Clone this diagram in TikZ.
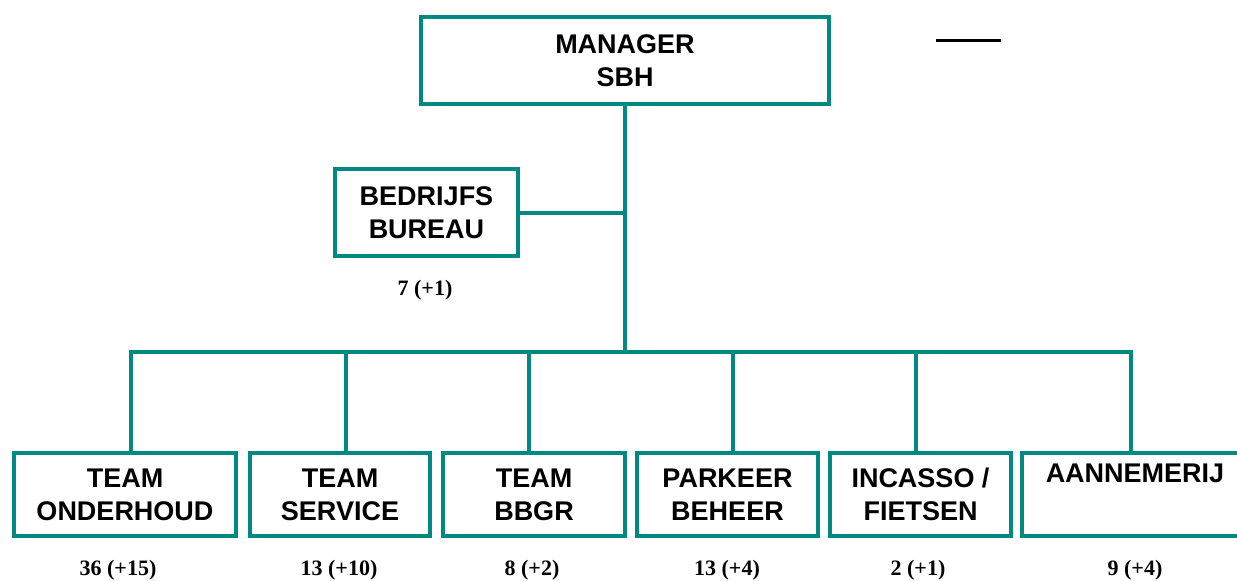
\documentclass[tikz,border=0pt]{standalone}
\usepackage{fontspec}
\setmainfont{Liberation Sans}
\newfontfamily\numfont{Liberation Serif}
\definecolor{teal1}{RGB}{0,136,130}
\begin{document}
\begin{tikzpicture}[x=1pt,y=-1pt,
  boxst/.style={draw=teal1,line width=4pt,fill=white,inner sep=0pt,align=center,
    font=\fontsize{27}{33}\selectfont\bfseries},
  conn/.style={draw=teal1,line width=4pt},
  numst/.style={font=\numfont\fontsize{22}{24}\selectfont\bfseries,inner sep=0pt}]
\useasboundingbox (0,0) rectangle (1237,581);
\fill[white] (0,0) rectangle (1237,581);
% boxes
\node[boxst,minimum width=408pt,minimum height=87pt] (mgr) at (625,60.5) {MANAGER\\SBH};
\node[boxst,minimum width=183pt,minimum height=87pt] (bb) at (426.5,212.5) {BEDRIJFS\\BUREAU};
\node[boxst,minimum width=222pt,minimum height=83pt] (t1) at (125,494.5) {TEAM\\ONDERHOUD};
\node[boxst,minimum width=180pt,minimum height=83pt] (t2) at (340,494.5) {TEAM\\SERVICE};
\node[boxst,minimum width=182pt,minimum height=83pt] (t3) at (534,494.5) {TEAM\\BBGR};
\node[boxst,minimum width=181pt,minimum height=83pt] (t4) at (727.5,494.5) {PARKEER\\BEHEER};
\node[boxst,minimum width=181pt,minimum height=83pt] (t5) at (920.5,494.5) {INCASSO /\\FIETSEN};
\node[boxst,minimum width=226pt,minimum height=83pt] (t6) at (1135,494.5) {AANNEMERIJ\\\strut};
% numbers
\node[numst] (n0) at (425,290) {7 (+1)};
\node[numst] (n1) at (118,570) {36 (+15)};
\node[numst] (n2) at (339,570) {13 (+10)};
\node[numst] (n3) at (532,570) {8 (+2)};
\node[numst] (n4) at (727,570) {13 (+4)};
\node[numst] (n5) at (918,570) {2 (+1)};
\node[numst] (n6) at (1135,570) {9 (+4)};
% bus coordinates
\coordinate (hub) at (625,352);
\coordinate (d1) at (131,352);
\coordinate (d2) at (346,352);
\coordinate (d3) at (529,352);
\coordinate (d4) at (733,352);
\coordinate (d5) at (916,352);
\coordinate (d6) at (1131,352);
\draw[conn] (mgr.south) -- (hub);
\draw[conn] (bb.east) -- (bb.east -| hub);
\draw[conn,line cap=rect] (d1) -- (d6);
\draw[conn] (d1) -- (d1 |- t1.north);
\draw[conn] (d2) -- (d2 |- t2.north);
\draw[conn] (d3) -- (d3 |- t3.north);
\draw[conn] (d4) -- (d4 |- t4.north);
\draw[conn] (d5) -- (d5 |- t5.north);
\draw[conn] (d6) -- (d6 |- t6.north);
% black line top right
\coordinate (k1) at (936,40);
\coordinate (k2) at (1001,40);
\draw[line width=3pt,black] (k1) -- (k2);
\end{tikzpicture}
\end{document}
